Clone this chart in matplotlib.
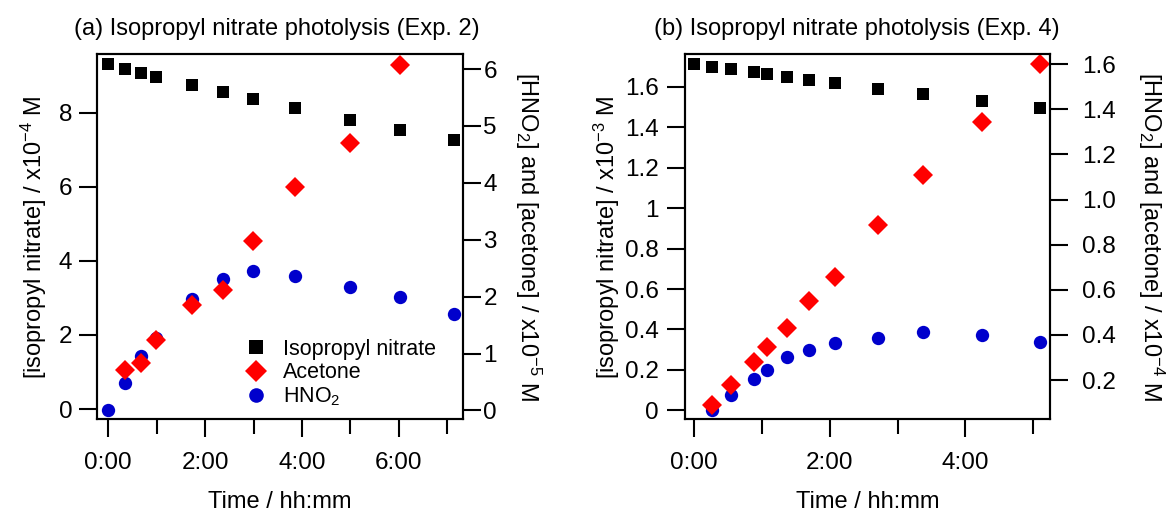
import numpy as np
import matplotlib
matplotlib.use("Agg")
import matplotlib.pyplot as plt
from matplotlib.ticker import MultipleLocator, FuncFormatter, FormatStrFormatter
from matplotlib.lines import Line2D

plt.rcParams['font.family'] = ['Liberation Sans', 'DejaVu Sans']
plt.rcParams['mathtext.fontset'] = 'custom'
plt.rcParams['mathtext.rm'] = 'Liberation Sans'
plt.rcParams['mathtext.it'] = 'Liberation Sans'
plt.rcParams['mathtext.default'] = 'regular'

# ---------------------------------------------------------------
# Data (time in hours)
# ---------------------------------------------------------------
# (a) Exp. 2
t_a = [0.0, 0.35, 0.67, 0.99, 1.73, 2.37, 2.99, 3.86, 4.99, 6.02, 7.13]
ipn_a = [9.30, 9.17, 9.07, 8.96, 8.74, 8.55, 8.36, 8.12, 7.81, 7.54, 7.25]      # x1e-4 M
t_a_acetone = [0.35, 0.67, 0.99, 1.73, 2.37, 2.99, 3.86, 4.99, 6.02]
acetone_a = [0.71, 0.84, 1.24, 1.86, 2.11, 2.98, 3.92, 4.70, 6.07]              # x1e-5 M
hono_a = [0.0, 0.49, 0.95, 1.28, 1.96, 2.31, 2.45, 2.36, 2.17, 2.00, 1.70]      # x1e-5 M

# (b) Exp. 4
t_b = [0.0, 0.26, 0.54, 0.88, 1.08, 1.37, 1.70, 2.07, 2.71, 3.38, 4.24, 5.10]
ipn_b = [1.711, 1.698, 1.686, 1.672, 1.662, 1.648, 1.634, 1.619, 1.591, 1.564, 1.530, 1.494]  # x1e-3 M
t_b_prod = t_b[1:]
acetone_b = [0.089, 0.178, 0.281, 0.348, 0.432, 0.550, 0.655, 0.887, 1.108, 1.343, 1.600]    # x1e-4 M
hono_b = [0.067, 0.133, 0.204, 0.244, 0.301, 0.332, 0.364, 0.386, 0.413, 0.398, 0.370]       # x1e-4 M

BLACK = '#000000'
RED = '#FF0000'
BLUE = '#0000CC'

FS_TICK = 17.5
FS_LABEL = 17
FS_LEG = 15.5


def hhmm(v, pos=None):
    h = int(np.floor(v + 1e-9))
    m = int(round((v - h) * 60))
    return f"{h}:{m:02d}"


def style_axis(ax):
    for sp in ax.spines.values():
        sp.set_linewidth(1.5)
    ax.tick_params(axis='both', which='major', direction='out', length=13, width=1.5,
                   labelsize=FS_TICK, color='black')
    ax.tick_params(axis='x', which='minor', direction='out', length=11, width=1.5)
    ax.tick_params(axis='x', pad=11)
    ax.tick_params(top=False, which='both')


fig = plt.figure(figsize=(11.71, 5.11), dpi=100)

# ---------------------------------------------------------------
# Panel (a)
# ---------------------------------------------------------------
axa = fig.add_axes([0.0831, 0.1800, 0.3120, 0.7137])
axa2 = axa.twinx()
axa.plot(t_a, ipn_a, 's', color=BLACK, ms=8.8, mew=0)
axa2.plot(t_a, hono_a, 'o', color=BLUE, ms=9.6, mew=0)
axa2.plot(t_a_acetone, acetone_a, 'D', color=RED, ms=10.3, mew=0)

axa.set_xlim(-0.227, 7.318)
axa.set_ylim(-0.27, 9.57)
axa2.set_ylim(-0.151, 6.258)
axa.xaxis.set_major_locator(MultipleLocator(2))
axa.xaxis.set_minor_locator(MultipleLocator(1))
axa.xaxis.set_major_formatter(FuncFormatter(hhmm))
axa.yaxis.set_major_locator(MultipleLocator(2))
axa2.yaxis.set_major_locator(MultipleLocator(1))
style_axis(axa)
style_axis(axa2)
axa.tick_params(axis='y', pad=5)
axa2.tick_params(axis='y', pad=2)

axa.set_xlabel('Time / hh:mm', fontsize=FS_LABEL, labelpad=12)
axa.set_ylabel('[isopropyl nitrate] / x10$^{-4}$ M', fontsize=FS_LABEL, labelpad=7)
axa2.set_ylabel('[HNO$_2$] and [acetone] / x10$^{-5}$ M', fontsize=FS_LABEL,
                rotation=270, labelpad=33)
fig.text(277 / 1171, 1 - 35 / 511, '(a) Isopropyl nitrate photolysis (Exp. 2)',
         fontsize=FS_LABEL, ha='center', va='baseline')

handles = [
    Line2D([], [], marker='s', ls='none', color=BLACK, ms=10, mew=0),
    Line2D([], [], marker='D', ls='none', color=RED, ms=11, mew=0),
    Line2D([], [], marker='o', ls='none', color=BLUE, ms=10.5, mew=0),
]
fig.legend(handles, ['Isopropyl nitrate', 'Acetone', 'HNO$_2$'],
           loc='upper left', bbox_to_anchor=(245 / 1171, 1 - 339 / 511),
           frameon=False, fontsize=FS_LEG, borderpad=0, borderaxespad=0,
           handlelength=1.0, handletextpad=0.75, labelspacing=0.1)

# ---------------------------------------------------------------
# Panel (b)
# ---------------------------------------------------------------
axb = fig.add_axes([0.5850, 0.1800, 0.3117, 0.7137])
axb2 = axb.twinx()
axb.plot(t_b, ipn_b, 's', color=BLACK, ms=8.8, mew=0)
axb2.plot(t_b_prod, hono_b, 'o', color=BLUE, ms=9.6, mew=0)
axb2.plot(t_b_prod, acetone_b, 'D', color=RED, ms=10.3, mew=0)

axb.set_xlim(-0.133, 5.246)
axb.set_ylim(-0.043, 1.761)
axb2.set_ylim(0.027, 1.644)
axb.xaxis.set_major_locator(MultipleLocator(2))
axb.xaxis.set_minor_locator(MultipleLocator(1))
axb.xaxis.set_major_formatter(FuncFormatter(hhmm))
axb.yaxis.set_major_locator(MultipleLocator(0.2))
axb.yaxis.set_major_formatter(FuncFormatter(lambda v, p: f"{v:g}"))
axb2.set_yticks(np.arange(0.2, 1.61, 0.2))
axb2.yaxis.set_major_formatter(FormatStrFormatter('%.1f'))
style_axis(axb)
style_axis(axb2)
axb.tick_params(axis='y', pad=6)
axb2.tick_params(axis='y', pad=10)

axb.set_xlabel('Time / hh:mm', fontsize=FS_LABEL, labelpad=12)
axb.set_ylabel('[isopropyl nitrate] / x10$^{-3}$ M', fontsize=FS_LABEL, labelpad=2)
axb2.set_ylabel('[HNO$_2$] and [acetone] / x10$^{-4}$ M', fontsize=FS_LABEL,
                rotation=270, labelpad=36)
fig.text(857 / 1171, 1 - 35 / 511, '(b) Isopropyl nitrate photolysis (Exp. 4)',
         fontsize=FS_LABEL, ha='center', va='baseline')

fig.savefig('out.png', dpi=100)
